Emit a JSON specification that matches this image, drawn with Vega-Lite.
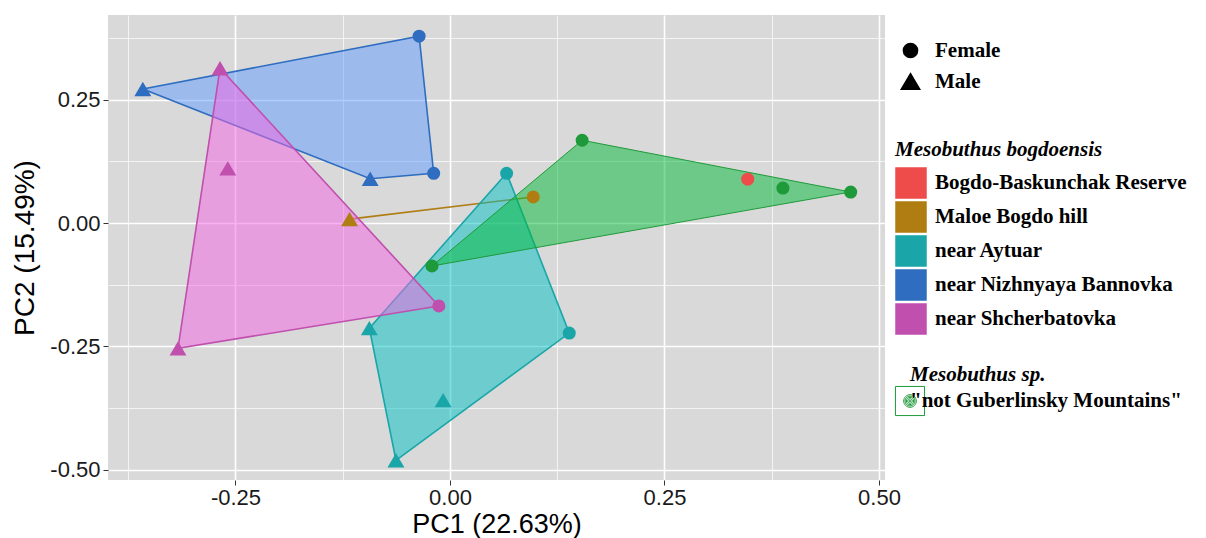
{
  "$schema": "https://vega.github.io/schema/vega-lite/v6.json",
  "width": 777,
  "height": 465,
  "autosize": {"type": "none"},
  "padding": {"left": 108, "top": 15, "right": 321, "bottom": 58},
  "background": "white",
  "config": {
    "view": {"fill": "#d9d9d9", "stroke": null},
    "legend": {
      "labelFont": "Liberation Serif",
      "labelFontWeight": "bold",
      "labelFontSize": 21,
      "labelColor": "black",
      "labelLimit": 400,
      "titleFont": "Liberation Serif",
      "titleFontStyle": "italic",
      "titleFontWeight": "bold",
      "titleFontSize": 21,
      "titleColor": "black",
      "titlePadding": 7,
      "titleLimit": 400,
      "symbolBaseFillColor": "transparent"
    }
  },
  "data": {
    "values": [
      {"group": "Bogdo-Baskunchak Reserve", "sex": "Female", "pc1": 0.347, "pc2": 0.089, "hull": null},
      {"group": "Maloe Bogdo hill", "sex": "Male", "pc1": -0.117, "pc2": 0.008, "hull": 1},
      {"group": "Maloe Bogdo hill", "sex": "Female", "pc1": 0.097, "pc2": 0.053, "hull": 2},
      {"group": "near Aytuar", "sex": "Female", "pc1": 0.066, "pc2": 0.101, "hull": 1},
      {"group": "near Aytuar", "sex": "Male", "pc1": -0.094, "pc2": -0.213, "hull": 2},
      {"group": "near Aytuar", "sex": "Male", "pc1": -0.063, "pc2": -0.481, "hull": 3},
      {"group": "near Aytuar", "sex": "Female", "pc1": 0.139, "pc2": -0.223, "hull": 4},
      {"group": "near Aytuar", "sex": "Male", "pc1": -0.008, "pc2": -0.359, "hull": null},
      {"group": "near Nizhnyaya Bannovka", "sex": "Male", "pc1": -0.358, "pc2": 0.272, "hull": 1},
      {"group": "near Nizhnyaya Bannovka", "sex": "Female", "pc1": -0.036, "pc2": 0.379, "hull": 2},
      {"group": "near Nizhnyaya Bannovka", "sex": "Female", "pc1": -0.019, "pc2": 0.101, "hull": 3},
      {"group": "near Nizhnyaya Bannovka", "sex": "Male", "pc1": -0.093, "pc2": 0.09, "hull": 4},
      {"group": "near Shcherbatovka", "sex": "Male", "pc1": -0.268, "pc2": 0.314, "hull": 1},
      {"group": "near Shcherbatovka", "sex": "Female", "pc1": -0.013, "pc2": -0.168, "hull": 2},
      {"group": "near Shcherbatovka", "sex": "Male", "pc1": -0.317, "pc2": -0.254, "hull": 3},
      {"group": "near Shcherbatovka", "sex": "Male", "pc1": -0.259, "pc2": 0.111, "hull": null},
      {"group": "\"not Guberlinsky Mountains\"", "sex": "Female", "pc1": -0.021, "pc2": -0.087, "hull": 1},
      {"group": "\"not Guberlinsky Mountains\"", "sex": "Female", "pc1": 0.154, "pc2": 0.168, "hull": 2},
      {"group": "\"not Guberlinsky Mountains\"", "sex": "Female", "pc1": 0.467, "pc2": 0.063, "hull": 3},
      {"group": "\"not Guberlinsky Mountains\"", "sex": "Female", "pc1": 0.388, "pc2": 0.071, "hull": null}
    ]
  },
  "encoding": {
    "x": {
      "field": "pc1", "type": "quantitative",
      "scale": {"domain": [-0.3986, 0.507], "nice": false, "zero": false},
      "axis": {
        "title": "PC1 (22.63%)",
        "values": [-0.375, -0.25, -0.125, 0, 0.125, 0.25, 0.375, 0.5],
        "labelExpr": "abs(datum.value*4-round(datum.value*4))>0.01 ? '' : replace(format(datum.value,'.2f'),'\u2212','-')",
        "domain": false,
        "gridColor": "white",
        "gridWidth": {"condition": {"test": "abs(datum.value*4-round(datum.value*4))>0.01", "value": 0.7}, "value": 1.6},
        "tickColor": "#333333",
        "tickSize": 5,
        "tickOpacity": {"condition": {"test": "abs(datum.value*4-round(datum.value*4))>0.01", "value": 0}, "value": 1},
        "labelFont": "Liberation Sans", "labelFontSize": 22, "labelColor": "#1a1a1a", "labelPadding": 2,
        "titleFont": "Liberation Sans", "titleFontSize": 27, "titleFontWeight": "normal", "titleColor": "black", "titlePadding": 3
      }
    },
    "y": {
      "field": "pc2", "type": "quantitative",
      "scale": {"domain": [-0.521, 0.422], "nice": false, "zero": false},
      "axis": {
        "title": "PC2 (15.49%)",
        "values": [-0.5, -0.375, -0.25, -0.125, 0, 0.125, 0.25, 0.375],
        "labelExpr": "abs(datum.value*4-round(datum.value*4))>0.01 ? '' : replace(format(datum.value,'.2f'),'\u2212','-')",
        "domain": false,
        "gridColor": "white",
        "gridWidth": {"condition": {"test": "abs(datum.value*4-round(datum.value*4))>0.01", "value": 0.7}, "value": 1.6},
        "tickColor": "#333333",
        "tickSize": 5,
        "tickOpacity": {"condition": {"test": "abs(datum.value*4-round(datum.value*4))>0.01", "value": 0}, "value": 1},
        "labelFont": "Liberation Sans", "labelFontSize": 22, "labelColor": "#1a1a1a", "labelPadding": 3,
        "titleFont": "Liberation Sans", "titleFontSize": 28, "titleFontWeight": "normal", "titleColor": "black", "titlePadding": 10
      }
    }
  },
  "layer": [
    {
      "transform": [{"filter": "datum.hull != null && datum.group != '\"not Guberlinsky Mountains\"'"}],
      "mark": {"type": "line", "interpolate": "linear-closed", "strokeWidth": 1.6, "fillOpacity": 0.5},
      "encoding": {
        "order": {"field": "hull", "type": "quantitative"},
        "color": {
          "field": "group", "type": "nominal",
          "scale": {
            "domain": ["Bogdo-Baskunchak Reserve", "Maloe Bogdo hill", "near Aytuar", "near Nizhnyaya Bannovka", "near Shcherbatovka"],
            "range": ["#ee4b4b", "#b07d12", "#1aa6a8", "#2e6dbf", "#c04fae"]
          },
          "legend": {
            "title": "Mesobuthus bogdoensis",
            "orient": "none",
            "legendX": 787,
            "legendY": 124,
            "padding": 0,
            "symbolSize": 900,
            "rowPadding": -5,
            "labelOffset": 8,
            "symbolType": "square"
          }
        },
        "fill": {
          "field": "group", "type": "nominal",
          "scale": {
            "domain": ["Bogdo-Baskunchak Reserve", "Maloe Bogdo hill", "near Aytuar", "near Nizhnyaya Bannovka", "near Shcherbatovka", "\"not Guberlinsky Mountains\""],
            "range": ["#F8766D", "#B79F00", "#00BFC4", "#619CFF", "#F564E3", "#00BA38"]
          },
          "legend": null
        }
      }
    },
    {
      "transform": [{"filter": "datum.hull != null && datum.group == '\"not Guberlinsky Mountains\"'"}],
      "mark": {"type": "line", "interpolate": "linear-closed", "fillOpacity": 0.5, "stroke": "#1f9a3a"},
      "encoding": {
        "order": {"field": "hull", "type": "quantitative"},
        "fill": {
          "field": "group", "type": "nominal",
          "scale": {
            "domain": ["Bogdo-Baskunchak Reserve", "Maloe Bogdo hill", "near Aytuar", "near Nizhnyaya Bannovka", "near Shcherbatovka", "\"not Guberlinsky Mountains\""],
            "range": ["#F8766D", "#B79F00", "#00BFC4", "#619CFF", "#F564E3", "#00BA38"]
          },
          "legend": null
        },
        "strokeWidth": {
          "field": "group", "type": "nominal",
          "scale": {"domain": ["\"not Guberlinsky Mountains\""], "range": [1.6]},
          "legend": {
            "title": "Mesobuthus sp.",
            "orient": "none",
            "legendX": 802,
            "legendY": 349,
            "padding": 0,
            "symbolSize": 900,
            "labelOffset": 30,
            "titlePadding": 16,
            "symbolType": "M-0.97,-0.97H0.97V0.97H-0.97Z M0.42,0A0.42,0.42 0 1,1 -0.42,0A0.42,0.42 0 1,1 0.42,0Z M0.33,0A0.33,0.33 0 1,1 -0.33,0A0.33,0.33 0 1,1 0.33,0Z M0.24,0A0.24,0.24 0 1,1 -0.24,0A0.24,0.24 0 1,1 0.24,0Z M0.15,0A0.15,0.15 0 1,1 -0.15,0A0.15,0.15 0 1,1 0.15,0Z M0.06,0A0.06,0.06 0 1,1 -0.06,0A0.06,0.06 0 1,1 0.06,0Z",
            "encode": {"symbols": {
              "fill": {"value": "#00BA38"},
              "fillOpacity": {"value": 0.5},
              "stroke": {"value": "#1f9a3a"},
              "opacity": {"value": 1},
              "size": {"value": 900}
            }}
          }
        }
      }
    },
    {
      "transform": [{"filter": "datum.group != '\"not Guberlinsky Mountains\"'"}],
      "mark": {"type": "point", "filled": true, "opacity": 1, "size": 170},
      "encoding": {
        "color": {
          "field": "group", "type": "nominal",
          "scale": {
            "domain": ["Bogdo-Baskunchak Reserve", "Maloe Bogdo hill", "near Aytuar", "near Nizhnyaya Bannovka", "near Shcherbatovka"],
            "range": ["#ee4b4b", "#b07d12", "#1aa6a8", "#2e6dbf", "#c04fae"]
          }
        },
        "shape": {
          "field": "sex", "type": "nominal",
          "scale": {"domain": ["Female", "Male"], "range": ["circle", "M0,-1.1L1.3,1.1L-1.3,1.1Z"]},
          "legend": {
            "title": null,
            "orient": "none",
            "legendX": 792,
            "legendY": 25,
            "padding": 0,
            "symbolSize": 200,
            "rowPadding": 9,
            "labelOffset": 14,
            "symbolFillColor": "black",
            "symbolStrokeColor": "black",
            "encode": {"symbols": {"fill": {"value": "black"}, "stroke": {"value": "black"}, "opacity": {"value": 1}}}
          }
        }
      }
    },
    {
      "transform": [{"filter": "datum.group == '\"not Guberlinsky Mountains\"'"}],
      "mark": {"type": "point", "filled": true, "opacity": 1, "fill": "#1f9a3a", "size": 170},
      "encoding": {
        "shape": {
          "field": "sex", "type": "nominal",
          "scale": {"domain": ["Female", "Male"], "range": ["circle", "M0,-1.1L1.3,1.1L-1.3,1.1Z"]}
        }
      }
    }
  ]
}
